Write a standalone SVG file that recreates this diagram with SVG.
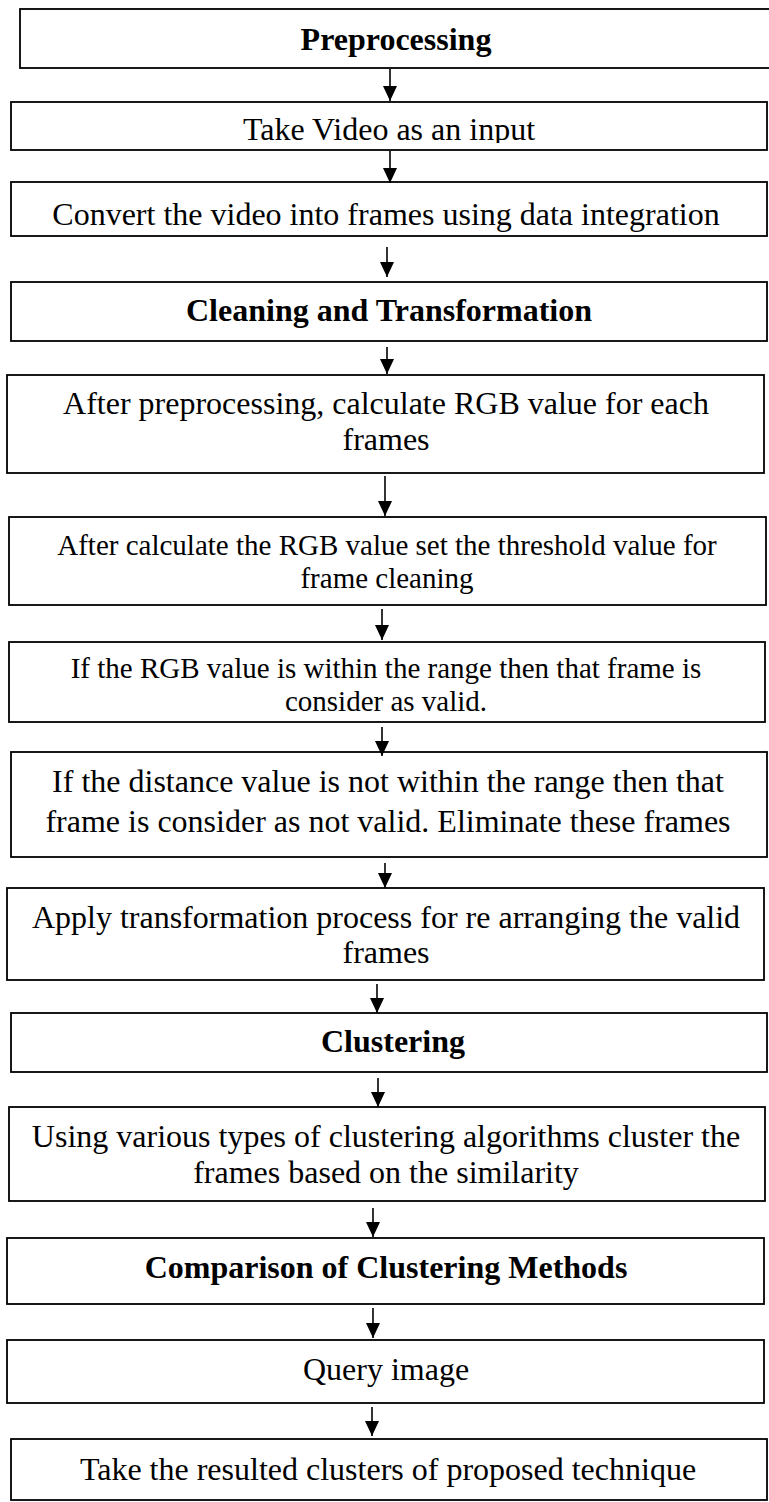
<svg xmlns="http://www.w3.org/2000/svg" width="769" height="1502" viewBox="0 0 769 1502">
<style>
.box{fill:#fff;stroke:#000;stroke-width:1.8}
.t{font-family:"Liberation Serif","Times New Roman",serif;font-size:32px;fill:#000;text-anchor:middle}
.s{font-size:29px}
.b{font-weight:bold}
.arr{stroke:#000;stroke-width:1.6;fill:none;marker-end:url(#ah)}
</style>
<defs>
<marker id="ah" markerUnits="userSpaceOnUse" markerWidth="16" markerHeight="15" refX="15" refY="7" orient="auto" viewBox="0 0 16 15">
<path d="M0,0 L15,7 L0,14 Z" fill="#000"/>
</marker>
<clipPath id="c2"><rect x="0" y="0" width="769" height="143"/></clipPath>
<clipPath id="c7"><rect x="0" y="0" width="769" height="713"/></clipPath>
</defs>
<rect width="769" height="1502" fill="#fff"/>
<g id="n1"><rect class="box" x="20" y="9" width="760" height="59"/><text class="t b" x="396" y="50">Preprocessing</text></g>
<g id="n2"><rect class="box" x="11" y="102" width="756" height="48"/><text class="t" x="389" y="140" clip-path="url(#c2)">Take Video as an input</text></g>
<g id="n3"><rect class="box" x="11" y="182" width="756" height="54"/><text class="t" x="386" y="225">Convert the video into frames using data integration</text></g>
<g id="n4"><rect class="box" x="11" y="282" width="756" height="59"/><text class="t b" x="389" y="321">Cleaning and Transformation</text></g>
<g id="n5"><rect class="box" x="7" y="375" width="757" height="98"/><text class="t" x="386" y="414">After preprocessing, calculate RGB value for each</text><text class="t" x="386" y="450">frames</text></g>
<g id="n6"><rect class="box" x="9" y="517" width="757" height="88"/><text class="t s" x="387" y="555">After calculate the RGB value set the threshold value for</text><text class="t s" x="387" y="588">frame cleaning</text></g>
<g id="n7"><rect class="box" x="9" y="642" width="756" height="80"/><text class="t s" x="386" y="678">If the RGB value is within the range then that frame is</text><text class="t s" x="386" y="711" clip-path="url(#c7)">consider as valid.</text></g>
<g id="n8"><rect class="box" x="11" y="752" width="756" height="105"/><text class="t" x="388" y="792">If the distance value is not within the range then that</text><text class="t" x="388" y="832">frame is consider as not valid. Eliminate these frames</text></g>
<g id="n9"><rect class="box" x="7" y="888" width="757" height="92"/><text class="t" x="386" y="928">Apply transformation process for re arranging the valid</text><text class="t" x="386" y="963">frames</text></g>
<g id="n10"><rect class="box" x="11" y="1013" width="756" height="59"/><text class="t b" x="393" y="1052">Clustering</text></g>
<g id="n11"><rect class="box" x="9" y="1107" width="756" height="94"/><text class="t" x="386" y="1147">Using various types of clustering algorithms cluster the</text><text class="t" x="386" y="1183">frames based on the similarity</text></g>
<g id="n12"><rect class="box" x="7" y="1238" width="757" height="66"/><text class="t b" x="386" y="1278">Comparison of Clustering Methods</text></g>
<g id="n13"><rect class="box" x="7" y="1340" width="757" height="63"/><text class="t" x="386" y="1380">Query image</text></g>
<g id="n14"><rect class="box" x="11" y="1439" width="756" height="61"/><text class="t" x="388" y="1480">Take the resulted clusters of proposed technique</text></g>
<g id="connectors">
<line class="arr" x1="390" y1="69" x2="390" y2="101"/>
<line class="arr" x1="390" y1="151" x2="390" y2="183"/>
<line class="arr" x1="387" y1="247" x2="387" y2="277"/>
<line class="arr" x1="387" y1="347" x2="387" y2="374"/>
<line class="arr" x1="385" y1="476" x2="385" y2="516"/>
<line class="arr" x1="382" y1="609" x2="382" y2="640"/>
<line class="arr" x1="382" y1="727" x2="382" y2="756"/>
<line class="arr" x1="385" y1="863" x2="385" y2="888"/>
<line class="arr" x1="377" y1="984" x2="377" y2="1013"/>
<line class="arr" x1="378" y1="1078" x2="378" y2="1107"/>
<line class="arr" x1="373" y1="1208" x2="373" y2="1237"/>
<line class="arr" x1="373" y1="1308" x2="373" y2="1338"/>
<line class="arr" x1="372" y1="1407" x2="372" y2="1436"/>
</g>
</svg>
